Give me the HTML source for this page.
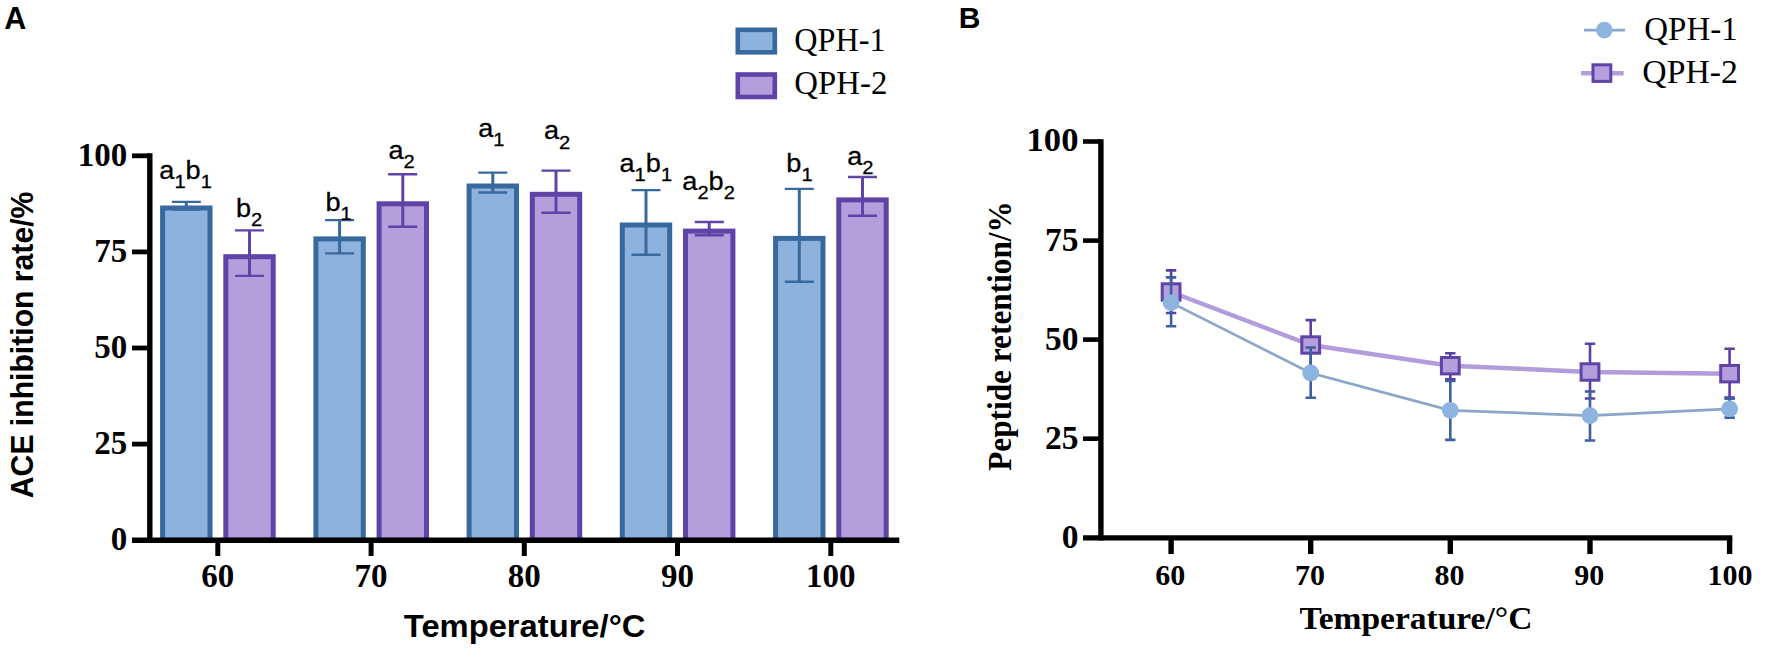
<!DOCTYPE html>
<html lang="en"><head><meta charset="utf-8"><title>Figure</title>
<style>html,body{margin:0;padding:0;background:#fff}svg{display:block}</style>
</head><body>
<svg width="1772" height="657" viewBox="0 0 1772 657">
<rect x="0" y="0" width="1772" height="657" fill="#ffffff"/>
<text x="4.2" y="28.7" font-family='"Liberation Sans", Arial, sans-serif' font-weight="700" font-size="30.5">A</text>
<text transform="translate(32.8 344.9) rotate(-90)" text-anchor="middle" font-family='"Liberation Sans", Arial, sans-serif' font-weight="700" font-size="32" textLength="306.5" lengthAdjust="spacingAndGlyphs">ACE inhibition rate/%</text>
<text x="524.6" y="636.9" text-anchor="middle" font-family='"Liberation Sans", Arial, sans-serif' font-weight="700" font-size="32" textLength="241.5" lengthAdjust="spacingAndGlyphs">Temperature/°C</text>
<rect x="162.6" y="208.0" width="47.4" height="332.2" fill="#8db2de" stroke="#38699e" stroke-width="5.0"/>
<path d="M186.3 201.9V209.5" stroke="#38699e" stroke-width="3" fill="none"/><path d="M171.8 201.9H200.8M171.8 209.5H200.8" stroke="#38699e" stroke-width="2.4" fill="none"/>
<rect x="225.8" y="256.7" width="47.4" height="283.5" fill="#b49fdc" stroke="#6043a6" stroke-width="5.0"/>
<path d="M249.5 230.4V275.9" stroke="#6043a6" stroke-width="3" fill="none"/><path d="M235.0 230.4H264.0M235.0 275.9H264.0" stroke="#6043a6" stroke-width="2.4" fill="none"/>
<rect x="315.9" y="238.9" width="47.4" height="301.3" fill="#8db2de" stroke="#38699e" stroke-width="5.0"/>
<path d="M339.6 220.1V253.4" stroke="#38699e" stroke-width="3" fill="none"/><path d="M325.1 220.1H354.1M325.1 253.4H354.1" stroke="#38699e" stroke-width="2.4" fill="none"/>
<rect x="379.1" y="203.8" width="47.4" height="336.4" fill="#b49fdc" stroke="#6043a6" stroke-width="5.0"/>
<path d="M402.8 174.3V226.7" stroke="#6043a6" stroke-width="3" fill="none"/><path d="M388.2 174.3H417.2M388.2 226.7H417.2" stroke="#6043a6" stroke-width="2.4" fill="none"/>
<rect x="469.1" y="186.0" width="47.4" height="354.2" fill="#8db2de" stroke="#38699e" stroke-width="5.0"/>
<path d="M492.8 172.6V192.5" stroke="#38699e" stroke-width="3" fill="none"/><path d="M478.3 172.6H507.3M478.3 192.5H507.3" stroke="#38699e" stroke-width="2.4" fill="none"/>
<rect x="532.3" y="194.3" width="47.4" height="345.9" fill="#b49fdc" stroke="#6043a6" stroke-width="5.0"/>
<path d="M556.0 170.6V212.7" stroke="#6043a6" stroke-width="3" fill="none"/><path d="M541.5 170.6H570.5M541.5 212.7H570.5" stroke="#6043a6" stroke-width="2.4" fill="none"/>
<rect x="622.3" y="225.0" width="47.4" height="315.2" fill="#8db2de" stroke="#38699e" stroke-width="5.0"/>
<path d="M646.0 190.1V254.7" stroke="#38699e" stroke-width="3" fill="none"/><path d="M631.5 190.1H660.5M631.5 254.7H660.5" stroke="#38699e" stroke-width="2.4" fill="none"/>
<rect x="685.5" y="231.1" width="47.4" height="309.1" fill="#b49fdc" stroke="#6043a6" stroke-width="5.0"/>
<path d="M709.2 222.0V235.2" stroke="#6043a6" stroke-width="3" fill="none"/><path d="M694.8 222.0H723.8M694.8 235.2H723.8" stroke="#6043a6" stroke-width="2.4" fill="none"/>
<rect x="775.6" y="238.4" width="47.4" height="301.8" fill="#8db2de" stroke="#38699e" stroke-width="5.0"/>
<path d="M799.3 188.9V281.7" stroke="#38699e" stroke-width="3" fill="none"/><path d="M784.8 188.9H813.8M784.8 281.7H813.8" stroke="#38699e" stroke-width="2.4" fill="none"/>
<rect x="838.8" y="199.9" width="47.4" height="340.3" fill="#b49fdc" stroke="#6043a6" stroke-width="5.0"/>
<path d="M862.5 177.0V215.7" stroke="#6043a6" stroke-width="3" fill="none"/><path d="M848.0 177.0H877.0M848.0 215.7H877.0" stroke="#6043a6" stroke-width="2.4" fill="none"/>
<path d="M149.8 153.3V542.8" stroke="#000" stroke-width="5.4" fill="none"/>
<path d="M132 540.2H899.3" stroke="#000" stroke-width="5.4" fill="none"/>
<path d="M132 444.1H149.8" stroke="#000" stroke-width="4.8" fill="none"/>
<path d="M132 348.0H149.8" stroke="#000" stroke-width="4.8" fill="none"/>
<path d="M132 251.9H149.8" stroke="#000" stroke-width="4.8" fill="none"/>
<path d="M132 155.8H149.8" stroke="#000" stroke-width="4.8" fill="none"/>
<path d="M217.8 540.2V556" stroke="#000" stroke-width="5" fill="none"/>
<path d="M371.1 540.2V556" stroke="#000" stroke-width="5" fill="none"/>
<path d="M524.3 540.2V556" stroke="#000" stroke-width="5" fill="none"/>
<path d="M677.5 540.2V556" stroke="#000" stroke-width="5" fill="none"/>
<path d="M830.8 540.2V556" stroke="#000" stroke-width="5" fill="none"/>
<text x="127.2" y="550.4" text-anchor="end" font-family='"Liberation Serif", "Times New Roman", serif' font-weight="700" font-size="33">0</text>
<text x="127.2" y="454.3" text-anchor="end" font-family='"Liberation Serif", "Times New Roman", serif' font-weight="700" font-size="33">25</text>
<text x="127.2" y="358.2" text-anchor="end" font-family='"Liberation Serif", "Times New Roman", serif' font-weight="700" font-size="33">50</text>
<text x="127.2" y="262.1" text-anchor="end" font-family='"Liberation Serif", "Times New Roman", serif' font-weight="700" font-size="33">75</text>
<text x="127.2" y="166.0" text-anchor="end" font-family='"Liberation Serif", "Times New Roman", serif' font-weight="700" font-size="33">100</text>
<text x="217.8" y="587.2" text-anchor="middle" font-family='"Liberation Serif", "Times New Roman", serif' font-weight="700" font-size="33">60</text>
<text x="371.1" y="587.2" text-anchor="middle" font-family='"Liberation Serif", "Times New Roman", serif' font-weight="700" font-size="33">70</text>
<text x="524.3" y="587.2" text-anchor="middle" font-family='"Liberation Serif", "Times New Roman", serif' font-weight="700" font-size="33">80</text>
<text x="677.5" y="587.2" text-anchor="middle" font-family='"Liberation Serif", "Times New Roman", serif' font-weight="700" font-size="33">90</text>
<text x="830.8" y="587.2" text-anchor="middle" font-family='"Liberation Serif", "Times New Roman", serif' font-weight="700" font-size="33">100</text>
<text transform="translate(159.3 178.5) scale(1.06 1)" font-family='"Liberation Sans", Arial, sans-serif' font-size="25.6" stroke="#000" stroke-width="0.3"><tspan dy="0">a</tspan><tspan font-size="19" dy="9.2">1</tspan><tspan dy="-9.2">b</tspan><tspan font-size="19" dy="9.2">1</tspan></text>
<text transform="translate(236.0 217.1) scale(1.06 1)" font-family='"Liberation Sans", Arial, sans-serif' font-size="25.6" stroke="#000" stroke-width="0.3"><tspan dy="0">b</tspan><tspan font-size="19" dy="9.2">2</tspan></text>
<text transform="translate(325.4 211.2) scale(1.06 1)" font-family='"Liberation Sans", Arial, sans-serif' font-size="25.6" stroke="#000" stroke-width="0.3"><tspan dy="0">b</tspan><tspan font-size="19" dy="9.2">1</tspan></text>
<text transform="translate(388.5 158.6) scale(1.06 1)" font-family='"Liberation Sans", Arial, sans-serif' font-size="25.6" stroke="#000" stroke-width="0.3"><tspan dy="0">a</tspan><tspan font-size="19" dy="9.2">2</tspan></text>
<text transform="translate(478.2 137.0) scale(1.06 1)" font-family='"Liberation Sans", Arial, sans-serif' font-size="25.6" stroke="#000" stroke-width="0.3"><tspan dy="0">a</tspan><tspan font-size="19" dy="9.2">1</tspan></text>
<text transform="translate(544.0 139.4) scale(1.06 1)" font-family='"Liberation Sans", Arial, sans-serif' font-size="25.6" stroke="#000" stroke-width="0.3"><tspan dy="0">a</tspan><tspan font-size="19" dy="9.2">2</tspan></text>
<text transform="translate(619.5 172.1) scale(1.06 1)" font-family='"Liberation Sans", Arial, sans-serif' font-size="25.6" stroke="#000" stroke-width="0.3"><tspan dy="0">a</tspan><tspan font-size="19" dy="9.2">1</tspan><tspan dy="-9.2">b</tspan><tspan font-size="19" dy="9.2">1</tspan></text>
<text transform="translate(682.3 189.7) scale(1.06 1)" font-family='"Liberation Sans", Arial, sans-serif' font-size="25.6" stroke="#000" stroke-width="0.3"><tspan dy="0">a</tspan><tspan font-size="19" dy="9.2">2</tspan><tspan dy="-9.2">b</tspan><tspan font-size="19" dy="9.2">2</tspan></text>
<text transform="translate(786.3 171.9) scale(1.06 1)" font-family='"Liberation Sans", Arial, sans-serif' font-size="25.6" stroke="#000" stroke-width="0.3"><tspan dy="0">b</tspan><tspan font-size="19" dy="9.2">1</tspan></text>
<text transform="translate(847.2 165.0) scale(1.06 1)" font-family='"Liberation Sans", Arial, sans-serif' font-size="25.6" stroke="#000" stroke-width="0.3"><tspan dy="0">a</tspan><tspan font-size="19" dy="9.2">2</tspan></text>
<rect x="737.8" y="29.8" width="37.0" height="22.5" fill="#8db2de" stroke="#38699e" stroke-width="4.6"/>
<rect x="737.8" y="74.5" width="37.0" height="22.5" fill="#b49fdc" stroke="#6043a6" stroke-width="4.6"/>
<text x="794.3" y="50.9" font-family='"Liberation Serif", "Times New Roman", serif' font-size="32.8" textLength="91.3" lengthAdjust="spacingAndGlyphs">QPH-1</text>
<text x="794.3" y="94.3" font-family='"Liberation Serif", "Times New Roman", serif' font-size="32.8" textLength="93" lengthAdjust="spacingAndGlyphs">QPH-2</text>
<text x="958.8" y="28.4" font-family='"Liberation Sans", Arial, sans-serif' font-weight="700" font-size="30">B</text>
<text transform="translate(1011 336) rotate(-90)" text-anchor="middle" font-family='"Liberation Serif", "Times New Roman", serif' font-weight="700" font-size="33" textLength="269.5" lengthAdjust="spacingAndGlyphs">Peptide retention/%</text>
<text x="1415.9" y="628.8" text-anchor="middle" font-family='"Liberation Serif", "Times New Roman", serif' font-weight="700" font-size="32.5" textLength="233" lengthAdjust="spacingAndGlyphs">Temperature/°C</text>
<polyline points="1171.1,292.0 1310.7,345.0 1450.3,365.7 1590.0,372.0 1729.6,373.7" fill="none" stroke="#b29cdc" stroke-width="4.5"/>
<path d="M1171.1 270.4V313M1165.9 270.4H1176.3M1165.9 313H1176.3" stroke="#5b3fa3" stroke-width="2.6" fill="none"/>
<path d="M1310.7 320.1V370M1305.5 320.1H1315.9M1305.5 370H1315.9" stroke="#5b3fa3" stroke-width="2.6" fill="none"/>
<path d="M1450.3 353.2V379.3M1445.1 353.2H1455.5M1445.1 379.3H1455.5" stroke="#5b3fa3" stroke-width="2.6" fill="none"/>
<path d="M1590.0 343.8V398.5M1584.8 343.8H1595.2M1584.8 398.5H1595.2" stroke="#5b3fa3" stroke-width="2.6" fill="none"/>
<path d="M1729.6 348.8V397.6M1724.4 348.8H1734.8M1724.4 397.6H1734.8" stroke="#5b3fa3" stroke-width="2.6" fill="none"/>
<rect x="1162.2" y="283.8" width="17.8" height="16.4" fill="#b49fdc" stroke="#6043a6" stroke-width="3"/>
<rect x="1301.8" y="336.8" width="17.8" height="16.4" fill="#b49fdc" stroke="#6043a6" stroke-width="3"/>
<rect x="1441.4" y="357.5" width="17.8" height="16.4" fill="#b49fdc" stroke="#6043a6" stroke-width="3"/>
<rect x="1581.1" y="363.8" width="17.8" height="16.4" fill="#b49fdc" stroke="#6043a6" stroke-width="3"/>
<rect x="1720.7" y="365.5" width="17.8" height="16.4" fill="#b49fdc" stroke="#6043a6" stroke-width="3"/>
<polyline points="1171.1,302.6 1310.7,373.0 1450.3,410.3 1590.0,415.6 1729.6,408.9" fill="none" stroke="#8aa6cb" stroke-width="2.7"/>
<path d="M1171.1 277.4V326.3M1165.9 277.4H1176.3M1165.9 326.3H1176.3" stroke="#3f5fa3" stroke-width="2.6" fill="none"/>
<path d="M1310.7 347.5V397.7M1305.5 347.5H1315.9M1305.5 397.7H1315.9" stroke="#3f5fa3" stroke-width="2.6" fill="none"/>
<path d="M1450.3 381V439.9M1445.1 381H1455.5M1445.1 439.9H1455.5" stroke="#3f5fa3" stroke-width="2.6" fill="none"/>
<path d="M1590.0 391.5V440.5M1584.8 391.5H1595.2M1584.8 440.5H1595.2" stroke="#3f5fa3" stroke-width="2.6" fill="none"/>
<path d="M1729.6 398.8V417.6M1724.4 398.8H1734.8M1724.4 417.6H1734.8" stroke="#3f5fa3" stroke-width="2.6" fill="none"/>
<circle cx="1171.1" cy="302.6" r="8.4" fill="#8cb4df"/>
<circle cx="1310.7" cy="373" r="8.4" fill="#8cb4df"/>
<circle cx="1450.3" cy="410.3" r="8.4" fill="#8cb4df"/>
<circle cx="1590.0" cy="415.6" r="8.4" fill="#8cb4df"/>
<circle cx="1729.6" cy="408.9" r="8.4" fill="#8cb4df"/>
<path d="M1100.9 139.2V540.4" stroke="#000" stroke-width="5.4" fill="none"/>
<path d="M1083 537.8H1732.3" stroke="#000" stroke-width="5.2" fill="none"/>
<path d="M1083 438.7H1100.9" stroke="#000" stroke-width="4.6" fill="none"/>
<path d="M1083 339.6H1100.9" stroke="#000" stroke-width="4.6" fill="none"/>
<path d="M1083 240.6H1100.9" stroke="#000" stroke-width="4.6" fill="none"/>
<path d="M1083 141.5H1100.9" stroke="#000" stroke-width="4.6" fill="none"/>
<path d="M1171.1 537.8V554" stroke="#000" stroke-width="5.4" fill="none"/>
<path d="M1310.7 537.8V554" stroke="#000" stroke-width="5.4" fill="none"/>
<path d="M1450.3 537.8V554" stroke="#000" stroke-width="5.4" fill="none"/>
<path d="M1590.0 537.8V554" stroke="#000" stroke-width="5.4" fill="none"/>
<path d="M1729.6 537.8V554" stroke="#000" stroke-width="5.4" fill="none"/>
<text x="1078.5" y="548.1" text-anchor="end" font-family='"Liberation Serif", "Times New Roman", serif' font-weight="700" font-size="33.5">0</text>
<text x="1078.5" y="449.0" text-anchor="end" font-family='"Liberation Serif", "Times New Roman", serif' font-weight="700" font-size="33.5">25</text>
<text x="1078.5" y="349.9" text-anchor="end" font-family='"Liberation Serif", "Times New Roman", serif' font-weight="700" font-size="33.5">50</text>
<text x="1078.5" y="250.9" text-anchor="end" font-family='"Liberation Serif", "Times New Roman", serif' font-weight="700" font-size="33.5">75</text>
<text x="1078.5" y="150.9" text-anchor="end" font-family='"Liberation Serif", "Times New Roman", serif' font-weight="700" font-size="33.5" textLength="52" lengthAdjust="spacingAndGlyphs">100</text>
<text x="1170.3" y="585.1" text-anchor="middle" font-family='"Liberation Serif", "Times New Roman", serif' font-weight="700" font-size="30">60</text>
<text x="1309.9" y="585.1" text-anchor="middle" font-family='"Liberation Serif", "Times New Roman", serif' font-weight="700" font-size="30">70</text>
<text x="1449.5" y="585.1" text-anchor="middle" font-family='"Liberation Serif", "Times New Roman", serif' font-weight="700" font-size="30">80</text>
<text x="1589.2" y="585.1" text-anchor="middle" font-family='"Liberation Serif", "Times New Roman", serif' font-weight="700" font-size="30">90</text>
<text x="1730.0" y="585.1" text-anchor="middle" font-family='"Liberation Serif", "Times New Roman", serif' font-weight="700" font-size="30">100</text>
<path d="M1584 30.1H1625" stroke="#8aa6cb" stroke-width="2.6" fill="none"/>
<circle cx="1604.3" cy="30.1" r="8.3" fill="#8cb4df"/>
<path d="M1581 73.2H1623.6" stroke="#b29cdc" stroke-width="4.4" fill="none"/>
<rect x="1593" y="64.8" width="17.8" height="16.6" fill="#b49fdc" stroke="#6043a6" stroke-width="3"/>
<text x="1644.3" y="40.2" font-family='"Liberation Serif", "Times New Roman", serif' font-size="34.3" textLength="93.4" lengthAdjust="spacingAndGlyphs">QPH-1</text>
<text x="1642.3" y="82.5" font-family='"Liberation Serif", "Times New Roman", serif' font-size="34.3" textLength="95.6" lengthAdjust="spacingAndGlyphs">QPH-2</text>
</svg>
</body></html>
